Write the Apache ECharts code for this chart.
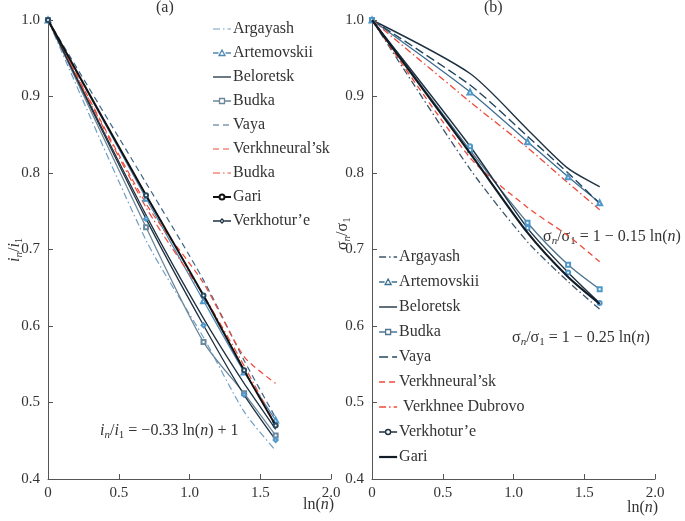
<!DOCTYPE html>
<html><head><meta charset="utf-8">
<script src="https://cdn.jsdelivr.net/npm/echarts@6/dist/echarts.min.js"></script>
<style>html,body{margin:0;padding:0;background:#fff}#c{width:685px;height:521px}</style>
</head><body><div id="c"></div>
<script>
// ln(n) for n = 1..5
const lnN = [0, 0.693, 1.099, 1.386, 1.609];
const xTicks = ['0', '0.5', '1.0', '1.5', '2.0'];
const yTicks = ['0.4', '0.5', '0.6', '0.7', '0.8', '0.9', '1.0'];

// (a) current ratio i_n / i_1
const aNames = ['Argayash', 'Artemovskii', 'Beloretsk', 'Budka', 'Vaya', 'Verkhneural\u2019sk', 'Budka', 'Gari', 'Verkhotur\u2019e'];
const aArgayash      = [1, 0.712, 0.585, 0.488, 0.437];
const aArtemovskii   = [1, 0.767, 0.633, 0.540, 0.477];
const aBeloretsk     = [1, 0.745, 0.610, 0.525, 0.465];
const aBudka         = [1, 0.729, 0.579, 0.512, 0.457];
const aVaya          = [1, 0.787, 0.660, 0.555, 0.480];
const aVerkhneuralsk = [1, 0.760, 0.656, 0.560, 0.525];
const aBudka2        = [1, 0.755, 0.640, 0.548, 0.470];
const aGari          = [1, 0.771, 0.640, 0.542, 0.470];
const aVerkhoture    = [1, 0.740, 0.601, 0.510, 0.451];

// (b) stress ratio sigma_n / sigma_1
const bNames = ['Argayash', 'Artemovskii', 'Beloretsk', 'Budka', 'Vaya', 'Verkhneural\u2019sk', ' Verkhnee Dubrovo', 'Verkhotur\u2019e', 'Gari'];
const bArgayash      = [1, 0.805, 0.710, 0.658, 0.622];
const bArtemovskii   = [1, 0.906, 0.841, 0.795, 0.761];
const bBeloretsk     = [1, 0.930, 0.857, 0.806, 0.782];
const bBudka         = [1, 0.830, 0.735, 0.680, 0.648];
const bVaya          = [1, 0.915, 0.848, 0.800, 0.760];
const bVerkhneuralsk = [1, 0.820, 0.755, 0.718, 0.684];
const bVerkhDubrovo  = [1, 0.893, 0.833, 0.787, 0.752];
const bVerkhoture    = [1, 0.835, 0.728, 0.670, 0.630];
const bGari          = [1, 0.826, 0.722, 0.664, 0.629];

const pts = v => lnN.map((x, i) => [x, v[i]]);
const DASH = [6, 4], DASHDOT = [7, 3, 1.5, 3], LDASH = [9, 4];
const NAVY = '#1e3242', STEEL = '#4d88b4', GREY = '#6c8799', RED = '#ee4a3a', LIGHT = '#6f9fc4';

// legend icon shapes (line with optional marker)
const BOX = 'path://M0,0M18,10';
const ICON = {
  none: BOX + 'M0,5L18,5',
  emptyTriangle: BOX + 'M0,5L5.5,5M12.5,5L18,5M9,2L12,7.5L6,7.5Z',
  emptyRect: BOX + 'M0,5L6.5,5M11.5,5L18,5M6.5,2.5L11.5,2.5L11.5,7.5L6.5,7.5Z',
  emptyCircle: BOX + 'M0,5L6.5,5M11.5,5L18,5M6.5,5A2.5,2.5,0,1,1,11.5,5A2.5,2.5,0,1,1,6.5,5Z',
  emptyDiamond: BOX + 'M0,5L6.5,5M11.5,5L18,5M9,3L11,5L9,7L7,5Z'
};

const series = [], aLegend = [], bLegend = [];
function add(list, name, idx, data, color, type, width, symbol, ssize, mcolor) {
  series.push({
    name: name, type: 'line', xAxisIndex: idx, yAxisIndex: idx, data: pts(data),
    smooth: 0.25, symbol: symbol || 'none', symbolSize: ssize || 4,
    itemStyle: { color: mcolor || color, borderWidth: 1 }, showSymbol: !!symbol,
    lineStyle: { color: color, type: type, width: width }, z: width > 1.6 ? 3 : 2
  });
  list.push({ name: name, icon: ICON[symbol || 'none'],
    itemStyle: { color: '#fff', borderColor: color, borderWidth: Math.max(1.2, width), borderType: type } });
}
const MK = '#4f97c8';
add(aLegend, 'a0', 0, aArgayash, LIGHT, DASHDOT, 1.2);
add(aLegend, 'a1', 0, aArtemovskii, STEEL, 'solid', 1.3, 'emptyTriangle', 5, MK);
add(aLegend, 'a2', 0, aBeloretsk, NAVY, 'solid', 1.3);
add(aLegend, 'a3', 0, aBudka, GREY, 'solid', 1.3, 'emptyRect', 4, '#6a8aa0');
add(aLegend, 'a4', 0, aVaya, '#3f6584', DASH, 1.2);
add(aLegend, 'a5', 0, aVerkhneuralsk, RED, DASH, 1.2);
add(aLegend, 'a6', 0, aBudka2, RED, DASHDOT, 1.2);
add(aLegend, 'a7', 0, aGari, '#111', 'solid', 2, 'emptyCircle', 4, '#2a4a62');
add(aLegend, 'a8', 0, aVerkhoture, NAVY, 'solid', 1.3, 'emptyDiamond', 4, MK);
add(bLegend, 'b0', 1, bArgayash, '#3b5569', DASHDOT, 1.3);
add(bLegend, 'b1', 1, bArtemovskii, '#3d6e92', 'solid', 1.3, 'emptyTriangle', 5, MK);
add(bLegend, 'b2', 1, bBeloretsk, NAVY, 'solid', 1.4);
add(bLegend, 'b3', 1, bBudka, '#4f7590', 'solid', 1.3, 'emptyRect', 4, MK);
add(bLegend, 'b4', 1, bVaya, '#24465e', LDASH, 1.4);
add(bLegend, 'b5', 1, bVerkhneuralsk, RED, DASH, 1.3);
add(bLegend, 'b6', 1, bVerkhDubrovo, RED, DASHDOT, 1.3);
add(bLegend, 'b7', 1, bVerkhoture, NAVY, 'solid', 1.4, 'emptyCircle', 4, MK);
add(bLegend, 'b8', 1, bGari, '#111c26', 'solid', 2.2);

const FONT = '"Liberation Serif", "DejaVu Serif", serif';
function xAx(idx) {
  return { type: 'value', gridIndex: idx, min: 0, max: 2, interval: 0.5,
    axisLine: { lineStyle: { color: '#555', width: 1 } },
    axisTick: { inside: true, length: 5, lineStyle: { color: '#555' } },
    splitLine: { show: false },
    axisLabel: { margin: 7, color: '#333', fontSize: 15, fontFamily: FONT,
      formatter: v => xTicks[Math.round(v / 0.5)] } };
}
function yAx(idx) {
  return { type: 'value', gridIndex: idx, min: 0.4, max: 1.0, interval: 0.1,
    axisLine: { show: true, lineStyle: { color: '#555', width: 1 } },
    axisTick: { show: true, inside: true, length: 5, lineStyle: { color: '#555' } },
    splitLine: { show: false },
    axisLabel: { margin: 8, color: '#333', fontSize: 15, fontFamily: FONT,
      formatter: v => yTicks[Math.round((v - 0.4) / 0.1)] } };
}
const labelOf = {};
aNames.forEach((n, i) => labelOf['a' + i] = n);
bNames.forEach((n, i) => labelOf['b' + i] = n);
function leg(data, left, top, gap) {
  return { orient: 'vertical', left: left, top: top, padding: 0, itemWidth: 18, itemHeight: 10, itemGap: gap,
    selectedMode: false, data: data,
    formatter: n => labelOf[n],
    textStyle: { color: '#333', fontSize: 16, fontFamily: 'Liberation Serif', padding: [0, 0, 0, -3] } };
}

const rich = {
  i: { fontStyle: 'italic', fontSize: 16, fontFamily: FONT, color: '#333' },
  s: { fontStyle: 'italic', fontSize: 11, fontFamily: FONT, color: '#333', padding: [9, 0, 0, 0] },
  s1: { fontSize: 11, fontFamily: FONT, color: '#333', padding: [9, 0, 0, 0] },
  t: { fontSize: 16, fontFamily: FONT, color: '#333' }
};
function txt(x, y, text) {
  return { type: 'text', left: x, top: y,
    style: { text: text, rich: rich, fill: '#333' } };
}

const chart = echarts.init(document.getElementById('c'));
chart.setOption({
  animation: false,
  grid: [
    { left: 48, top: 20, width: 283, height: 459 },
    { left: 372, top: 20, width: 283, height: 459 }
  ],
  xAxis: [xAx(0), xAx(1)],
  yAxis: [yAx(0), yAx(1)],
  legend: [leg(aLegend, 212, 21, 8), leg(bLegend, 378, 249, 9)],
  series: series,
  graphic: [
    txt(156, 0, '{t|(a)}'),
    txt(484, 0, '{t|(b)}'),
    txt(100, 423, '{i|i}{s|n}{t|/}{i|i}{s1|1}{t| = \u22120.33 ln(}{i|n}{t|) + 1}'),
    txt(543, 229, '{t|\u03c3}{s|n}{t|/\u03c3}{s1|1}{t| = 1 \u2212 0.15 ln(}{i|n}{t|)}'),
    txt(512, 330, '{t|\u03c3}{s|n}{t|/\u03c3}{s1|1}{t| = 1 \u2212 0.25 ln(}{i|n}{t|)}'),
    txt(303, 497, '{t|ln(}{i|n}{t|)}'),
    txt(627, 500, '{t|ln(}{i|n}{t|)}'),
    { type: 'text', x: 5, y: 262, rotation: Math.PI / 2,
      style: { text: '{i|i}{s|n}{t|/}{i|i}{s1|1}', rich: rich, fill: '#333' } },
    { type: 'text', x: 333, y: 250, rotation: Math.PI / 2,
      style: { text: '{t|\u03c3}{s|n}{t|/\u03c3}{s1|1}', rich: rich, fill: '#333' } }
  ]
});
</script></body></html>
